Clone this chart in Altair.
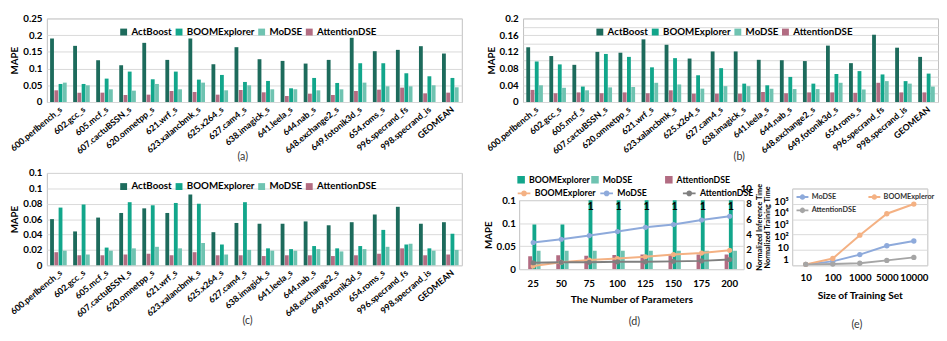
import altair as alt
import pandas as pd

benchmarks = ["600.perlbench_s", "602.gcc_s", "605.mcf_s", "607.cactuBSSN_s", "620.omnetpp_s",
              "621.wrf_s", "623.xalancbmk_s", "625.x264_s", "627.cam4_s", "638.imagick_s",
              "641.leela_s", "644.nab_s", "648.exchange2_s", "649.fotonik3d_s", "654.roms_s",
              "996.specrand_fs", "998.specrand_is", "GEOMEAN"]
methods = ["ActBoost", "BOOMExplorer", "MoDSE", "AttentionDSE"]
method_colors = ["#1d6b5c", "#12a68b", "#6fc3b1", "#b26c82"]

# panel (a)
a_actboost = [0.190, 0.168, 0.125, 0.110, 0.177, 0.126, 0.190, 0.113, 0.164, 0.128, 0.123, 0.115, 0.126, 0.192, 0.152, 0.156, 0.167, 0.145]
a_boom = [0.054, 0.054, 0.070, 0.091, 0.068, 0.091, 0.067, 0.081, 0.060, 0.063, 0.041, 0.072, 0.057, 0.116, 0.116, 0.086, 0.077, 0.072]
a_modse = [0.058, 0.050, 0.038, 0.034, 0.054, 0.038, 0.058, 0.035, 0.050, 0.038, 0.038, 0.035, 0.038, 0.058, 0.047, 0.047, 0.050, 0.044]
a_attn = [0.035, 0.028, 0.028, 0.021, 0.022, 0.033, 0.030, 0.022, 0.036, 0.029, 0.018, 0.025, 0.021, 0.033, 0.037, 0.043, 0.026, 0.028]
a_ticks = [0, 0.05, 0.1, 0.15, 0.2, 0.25]

# panel (b)
b_actboost = [0.131, 0.110, 0.089, 0.120, 0.118, 0.150, 0.137, 0.104, 0.121, 0.121, 0.101, 0.100, 0.098, 0.135, 0.093, 0.161, 0.130, 0.108]
b_boom = [0.097, 0.090, 0.037, 0.115, 0.108, 0.083, 0.105, 0.064, 0.081, 0.044, 0.040, 0.060, 0.044, 0.067, 0.074, 0.066, 0.050, 0.068]
b_modse = [0.040, 0.034, 0.028, 0.035, 0.036, 0.046, 0.042, 0.032, 0.038, 0.038, 0.032, 0.031, 0.031, 0.046, 0.030, 0.050, 0.044, 0.037]
b_attn = [0.029, 0.021, 0.023, 0.021, 0.023, 0.021, 0.028, 0.020, 0.020, 0.020, 0.024, 0.021, 0.023, 0.023, 0.022, 0.046, 0.023, 0.023]
b_ticks = [0, 0.02, 0.04, 0.06, 0.08, 0.1, 0.12, 0.14, 0.16, 0.18, 0.2]

# panel (c)
c_actboost = [0.060, 0.044, 0.062, 0.068, 0.074, 0.068, 0.092, 0.043, 0.055, 0.054, 0.054, 0.057, 0.052, 0.056, 0.066, 0.076, 0.054, 0.056]
c_boom = [0.075, 0.079, 0.023, 0.082, 0.078, 0.081, 0.080, 0.027, 0.082, 0.022, 0.021, 0.025, 0.022, 0.025, 0.046, 0.027, 0.022, 0.041]
c_modse = [0.019, 0.014, 0.019, 0.022, 0.024, 0.022, 0.029, 0.014, 0.020, 0.019, 0.019, 0.021, 0.018, 0.021, 0.024, 0.028, 0.019, 0.020]
c_attn = [0.017, 0.013, 0.013, 0.014, 0.015, 0.013, 0.017, 0.013, 0.013, 0.012, 0.013, 0.013, 0.012, 0.013, 0.015, 0.022, 0.013, 0.014]
c_ticks = [0, 0.02, 0.04, 0.06, 0.08, 0.1, 0.12]

# panel (d)
params = ["25", "50", "75", "100", "125", "150", "175", "200"]
d_series = ["BOOMExplorer", "MoDSE", "AttentionDSE"]
d_bar_colors = ["#12a68b", "#6fc3b1", "#b26c82"]
d_line_colors = ["#f4b183", "#8eaadb", "#7f7f7f"]
d_bar_boom = [0.097, 0.097, 1, 1, 1, 1, 1, 1]
d_bar_modse = [0.040, 0.040, 0.040, 0.040, 0.040, 0.040, 0.040, 0.040]
d_bar_attn = [0.028, 0.030, 0.029, 0.031, 0.032, 0.032, 0.032, 0.032]
d_line_boom = [0.007, 0.015, 0.020, 0.023, 0.027, 0.032, 0.035, 0.041]
d_line_modse = [0.058, 0.065, 0.073, 0.082, 0.091, 0.097, 0.107, 0.115]
d_line_attn = [0.014, 0.015, 0.015, 0.016, 0.016, 0.017, 0.018, 0.021]
d_ticks = [0, 0.05, 0.1, 0.15]

# panel (e)
train_sizes = ["10", "100", "1000", "5000", "10000"]
e_series = ["MoDSE", "BOOMExpleror", "AttentionDSE"]
e_colors = ["#8eaadb", "#f4b183", "#a5a5a5"]
e_modse = [0.38, 0.68, 2.6, 15, 38]
e_boom = [0.38, 1.2, 120, 8300, 56000]
e_attn = [0.38, 0.40, 0.47, 0.83, 1.5]
e_train_ticks = [1, 10, 100, 1000, 10000, 100000]
e_inf_ticks = [0, 2, 4, 6, 8, 10]

FONT = "Lato"
GRID = "#d9d9d9"
BORDER = "#bfbfbf"
LINE_SYMBOL = "M-1,0L1,0M-0.3,0A0.3,0.3,0,1,0,0.3,0A0.3,0.3,0,1,0,-0.3,0"


def bar_panel(series, yticks, caption, height, cap_dx):
    rows = []
    for m, vals in zip(methods, series):
        for b, v in zip(benchmarks, vals):
            rows.append({"bench": b, "method": m, "mape": v})
    df = pd.DataFrame(rows)
    return alt.Chart(df).mark_bar().encode(
        x=alt.X("bench:N", sort=benchmarks, title=None,
                scale=alt.Scale(paddingInner=0.28, paddingOuter=0.14),
                axis=alt.Axis(labelAngle=-40, labelFontSize=9, labelFontWeight="bold",
                              ticks=False, domain=False, labelPadding=3, labelColor="#000")),
        xOffset=alt.XOffset("method:N", sort=methods, scale=alt.Scale(paddingInner=0.1)),
        y=alt.Y("mape:Q", scale=alt.Scale(domain=[0, yticks[-1]], nice=False),
                axis=alt.Axis(title="MAPE", values=yticks, format="~g", grid=True, gridColor=GRID,
                              domain=False, ticks=False, labelFontSize=10, labelFontWeight="bold",
                              labelColor="#000", labelPadding=5, titleFontSize=10,
                              titleFontWeight="bold", titlePadding=3, titleColor="#000")),
        color=alt.Color("method:N", sort=methods,
                        scale=alt.Scale(domain=methods, range=method_colors),
                        legend=alt.Legend(title=None, orient="none", legendX=74, legendY=9,
                                          direction="horizontal", columns=4, gridAlign="each",
                                          symbolType="square",
                                          symbolSize=50, labelFontSize=10,
                                          labelFontWeight="bold", columnPadding=2, labelOffset=3,
                                          labelColor="#000")),
    ).properties(width=427, height=height,
                 title=alt.TitleParams(caption, orient="bottom", fontSize=11, fontWeight="normal",
                                       offset=-4, frame="group", dx=cap_dx, color="#333"))


def spacer(h):
    return alt.Chart(pd.DataFrame({"s": [0]})).mark_point(opacity=0).encode(
        x=alt.value(0), y=alt.value(0)).properties(
        width=1, height=h, view=alt.ViewBackground(stroke="transparent"))


panel_a = bar_panel([a_actboost, a_boom, a_modse, a_attn], a_ticks, "(a)", 86, -12)
panel_b = bar_panel([b_actboost, b_boom, b_modse, b_attn], b_ticks, "(b)", 86, 9)
panel_c = bar_panel([c_actboost, c_boom, c_modse, c_attn], c_ticks, "(c)", 95, -7)

# ---- panel (d)
d_bar_rows = []
for s, vals in zip(d_series, [d_bar_boom, d_bar_modse, d_bar_attn]):
    for p, v in zip(params, vals):
        d_bar_rows.append({"param": p, "series": s, "mape": v})
d_bar_df = pd.DataFrame(d_bar_rows)
d_line_rows = []
for s, vals in zip(d_series, [d_line_boom, d_line_modse, d_line_attn]):
    for p, v in zip(params, vals):
        d_line_rows.append({"param": p, "series": s, "mape": v})
d_line_df = pd.DataFrame(d_line_rows)

d_x = alt.X("param:N", sort=params, title="The Number of Parameters",
            scale=alt.Scale(paddingInner=0.34, paddingOuter=0.17),
            axis=alt.Axis(labelAngle=0, labelFontSize=10, labelFontWeight="bold", labelColor="#000",
                          ticks=False, domain=False, labelPadding=10, titleFontSize=10.5,
                          titleFontWeight="bold", titlePadding=6, titleColor="#000"))
d_y_scale = alt.Scale(domain=[0, 0.15], nice=False)
d_y_axis = alt.Axis(title="MAPE", values=d_ticks, format="~g", grid=True, gridColor=GRID,
                    domain=False, ticks=False, labelFontSize=10, labelFontWeight="bold",
                    labelColor="#000", labelPadding=4, titleFontSize=10, titleFontWeight="bold",
                    titlePadding=3, titleColor="#000")
d_xoff = alt.XOffset("series:N", sort=d_series, scale=alt.Scale(paddingInner=0.08))

d_bars = alt.Chart(d_bar_df).mark_bar(clip=True).encode(
    x=d_x, xOffset=d_xoff,
    y=alt.Y("mape:Q", scale=d_y_scale, axis=d_y_axis),
    color=alt.Color("series:N", sort=d_series,
                    scale=alt.Scale(domain=d_series, range=d_bar_colors),
                    legend=alt.Legend(title=None, orient="none", legendX=-3, legendY=-26,
                                      direction="horizontal", columns=3, gridAlign="all",
                                      symbolType="square", symbolSize=60, labelFontSize=9,
                                      labelFontWeight="bold", columnPadding=0, labelOffset=3,
                                      labelColor="#000")),
)
d_text = alt.Chart(d_bar_df).transform_filter("datum.mape > 0.15").transform_calculate(
    top="0.15").mark_text(baseline="top", dy=1, fontSize=11, fontWeight="bold", color="#000").encode(
    x=d_x, xOffset=d_xoff,
    y=alt.Y("top:Q", scale=d_y_scale, axis=d_y_axis),
    text=alt.value("1"),
)
line_legend = alt.Legend(title=None, orient="none", legendX=-3, legendY=-15,
                         direction="horizontal", columns=3, gridAlign="all",
                         symbolType=LINE_SYMBOL,
                         symbolSize=170, symbolStrokeWidth=2, labelFontSize=9,
                         labelFontWeight="bold", columnPadding=0, labelOffset=3, labelColor="#000")
d_color = alt.Color("series:N", sort=d_series,
                    scale=alt.Scale(domain=d_series, range=d_line_colors), legend=line_legend)
d_lines = alt.Chart(d_line_df).mark_line(strokeWidth=2).encode(
    x=d_x, y=alt.Y("mape:Q", scale=d_y_scale, axis=d_y_axis), color=d_color)
d_points = alt.Chart(d_line_df).mark_point(filled=True, size=28, opacity=1).encode(
    x=d_x, y=alt.Y("mape:Q", scale=d_y_scale, axis=d_y_axis), color=d_color)

panel_d = alt.layer(alt.layer(d_bars, d_text), alt.layer(d_lines, d_points)).resolve_scale(
    color="independent").properties(
    width=231, height=71,
    title=alt.TitleParams("(d)", orient="bottom", fontSize=11, fontWeight="normal", offset=12,
                          frame="group", dx=3, color="#333"))

# ---- panel (e)
e_rows = []
for s, vals in zip(e_series, [e_modse, e_boom, e_attn]):
    for t, v in zip(train_sizes, vals):
        e_rows.append({"size": t, "series": s, "time": v})
e_df = pd.DataFrame(e_rows)
inf_df = pd.DataFrame({"inf": [e_inf_ticks[0], e_inf_ticks[-1]]})

E_W, E_H = 139, 79
e_x = alt.X("size:N", sort=train_sizes, title="Size of Training Set",
            scale=alt.Scale(paddingInner=0.0, paddingOuter=0.0),
            axis=alt.Axis(labelAngle=0, labelFontSize=10, labelFontWeight="bold", labelColor="#000",
                          ticks=False, domain=False, labelPadding=8, titleFontSize=10.5,
                          titleFontWeight="bold", titlePadding=8, titleColor="#000"))

e_inf = alt.Chart(inf_df).mark_point(opacity=0).encode(
    y=alt.Y("inf:Q", scale=alt.Scale(domain=[0, 10], nice=False),
            axis=alt.Axis(orient="left", offset=39, values=e_inf_ticks, grid=True, gridColor=GRID,
                          domain=False, ticks=False, labelFontSize=10, labelFontWeight="bold",
                          labelColor="#000", labelPadding=3, title="Normalized Inference Time",
                          titleFontSize=7.5, titleFontWeight="bold", titleColor="#000",
                          titleAngle=270, titleAlign="center", titleBaseline="bottom",
                          titleX=9, titleY=E_H / 2))
)
e_legend = alt.Legend(title=None, orient="none", legendX=3, legendY=1, direction="horizontal",
                      columns=2, gridAlign="all",
                      symbolType=LINE_SYMBOL,
                      symbolSize=150, symbolStrokeWidth=2, labelFontSize=7.5,
                      labelFontWeight="bold", columnPadding=1, rowPadding=0, labelOffset=2,
                      labelColor="#333")
e_color = alt.Color("series:N", sort=e_series, scale=alt.Scale(domain=e_series, range=e_colors),
                    legend=e_legend)
e_y_scale = alt.Scale(type="log", domain=[0.3162, 1.2e6], nice=False)
e_y_axis = alt.Axis(orient="left", values=e_train_ticks, grid=False, domain=False, ticks=False,
                    labelFontSize=10, labelFontWeight="bold", labelColor="#000", labelPadding=4,
                    labelExpr="datum.value == 1 ? '1' : datum.value == 10 ? '10' : datum.value == 100 ? '10²' : datum.value == 1000 ? '10³' : datum.value == 10000 ? '10⁴' : '10⁵'",
                    title="Normalized Training Time", titleFontSize=7.5, titleFontWeight="bold",
                    titleColor="#000", titleAngle=270, titleAlign="center",
                    titleBaseline="bottom", titleX=-21, titleY=E_H / 2)
e_lines = alt.Chart(e_df).mark_line(strokeWidth=2).encode(
    x=e_x, y=alt.Y("time:Q", scale=e_y_scale, axis=e_y_axis), color=e_color)
e_points = alt.Chart(e_df).mark_point(filled=True, size=30, opacity=1).encode(
    x=e_x, y=alt.Y("time:Q", scale=e_y_scale, axis=e_y_axis), color=e_color)

panel_e = alt.layer(e_inf, alt.layer(e_lines, e_points)).resolve_scale(y="independent").properties(
    width=E_W, height=E_H,
    title=alt.TitleParams("(e)", orient="bottom", fontSize=11, fontWeight="normal", offset=19,
                          frame="group", dx=-3, color="#333"))

top = alt.hconcat(panel_a, panel_b, spacing=22).resolve_scale(color="independent")
col_c = alt.vconcat(spacer(1), panel_c, spacing=0).resolve_scale(color="independent")
col_d = alt.vconcat(spacer(10), panel_d, spacing=0).resolve_scale(color="independent")
col_e = alt.vconcat(spacer(19), panel_e, spacing=0).resolve_scale(color="independent")
de = alt.hconcat(col_d, col_e, spacing=-16).resolve_scale(color="independent")
bottom = alt.hconcat(col_c, de, spacing=20).resolve_scale(color="independent")

chart = alt.vconcat(top, bottom, spacing=-10).resolve_scale(color="independent").properties(
    padding=0).configure(font=FONT).configure_view(stroke=BORDER, strokeWidth=1).configure_axis(
    labelFont=FONT, titleFont=FONT).configure_legend(labelFont=FONT).configure_title(font=FONT)

chart.save("out.html", embed_options={"renderer": "svg", "actions": False})
